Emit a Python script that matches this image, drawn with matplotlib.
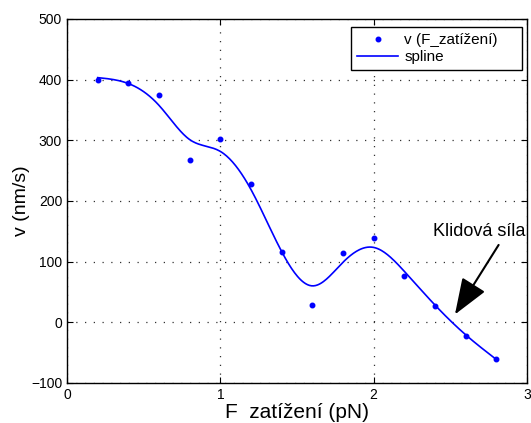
import numpy as np
import matplotlib
matplotlib.use("Agg")
import matplotlib.pyplot as plt

F_load = [0.2, 0.4, 0.6, 0.8, 1.0, 1.2, 1.4, 1.6, 1.8, 2.0, 2.2, 2.4, 2.6, 2.8]
velocity = [400, 395, 375, 267, 303, 228, 116, 28, 114, 139, 76, 27, -22, -60]

x_ticks = [0, 1, 2, 3]
y_ticks = [-100, 0, 100, 200, 300, 400, 500]

SMOOTHING = 0.00095  # (1 - p) / p of the smoothing spline


def smoothing_spline(t, y, lam):
    """Cubic smoothing spline (Reinsch form), returns a callable"""
    t = np.asarray(t, float)
    y = np.asarray(y, float)
    n = len(t)
    h = np.diff(t)
    Q = np.zeros((n, n - 2))
    R = np.zeros((n - 2, n - 2))
    for j in range(1, n - 1):
        Q[j - 1, j - 1] = 1 / h[j - 1]
        Q[j, j - 1] = -1 / h[j - 1] - 1 / h[j]
        Q[j + 1, j - 1] = 1 / h[j]
        R[j - 1, j - 1] = (h[j - 1] + h[j]) / 3
        if j < n - 2:
            R[j - 1, j] = h[j] / 6
            R[j, j - 1] = h[j] / 6
    K = Q @ np.linalg.solve(R, Q.T)
    g = np.linalg.solve(np.eye(n) + lam * K, y)
    gam = np.zeros(n)
    gam[1:-1] = np.linalg.solve(R, Q.T @ g)

    def f(x):
        x = np.asarray(x, float)
        i = np.clip(np.searchsorted(t, x) - 1, 0, n - 2)
        hi = h[i]
        a = x - t[i]
        b = t[i + 1] - x
        return (a * g[i + 1] + b * g[i]) / hi - a * b / 6 * (
            (1 + a / hi) * gam[i + 1] + (1 + b / hi) * gam[i])
    return f


spl = smoothing_spline(F_load, velocity, SMOOTHING)
xs = np.linspace(F_load[0], F_load[-1], 400)

plt.rcParams['font.family'] = ['Liberation Sans', 'DejaVu Sans']

fig = plt.figure(figsize=(5.31, 4.23), dpi=100)
ax = fig.add_axes([0.1262, 0.0946, 0.8663, 0.8605])

ax.plot(F_load, velocity, '.', color='blue', markersize=6.5, label='v (F_zatížení)')
ax.plot(xs, spl(xs), '-', color='blue', linewidth=1.2, label='spline')

ax.set_xlim(0, 3)
ax.set_ylim(-100, 500)
ax.set_xticks(x_ticks)
ax.set_yticks(y_ticks)
ax.tick_params(direction='in', labelsize=10, length=4, top=True, right=True)
ax.grid(True, linestyle=(0, (1, 6)), color='#333333', linewidth=0.9)
for sp in ax.spines.values():
    sp.set_linewidth(1.0)

ax.set_xlabel('F  zatížení (pN)', fontsize=15, labelpad=1)
ax.set_ylabel('v (nm/s)', fontsize=14, labelpad=1)

# MATLAB-like legend box with extra room on the right
leg = ax.legend(loc='upper left', bbox_to_anchor=(0.617, 0.86, 0.372, 0.118),
                mode='expand', fontsize=11, fancybox=False, framealpha=1,
                edgecolor='black', borderaxespad=0, handlelength=2.7,
                handletextpad=0.4, borderpad=0.4, labelspacing=0.2)
leg.get_frame().set_linewidth(1.0)

ax.annotate('Klidová síla', xy=(2.53, 13), xytext=(2.39, 150),
            fontsize=13, ha='left', va='center',
            arrowprops=dict(arrowstyle='-|>,head_length=1.6,head_width=0.6',
                            color='black', lw=1.5, mutation_scale=14,
                            shrinkA=2, shrinkB=0,
                            relpos=(0.74, 0)))

fig.savefig('out.png', dpi=100)
